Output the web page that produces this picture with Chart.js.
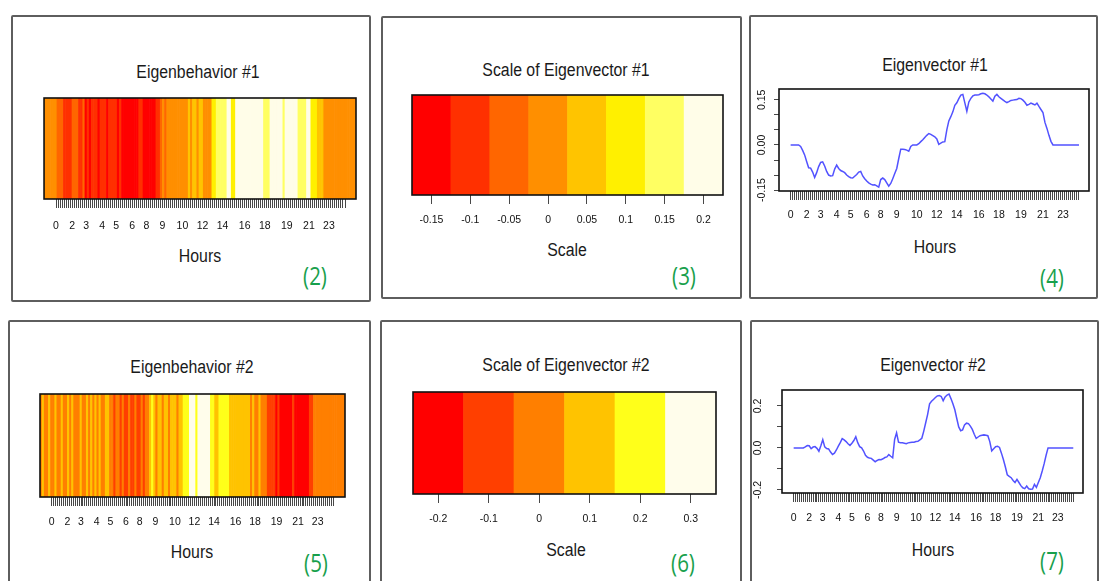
<!DOCTYPE html>
<html>
<head>
<meta charset="utf-8">
<script src="https://cdn.jsdelivr.net/npm/chart.js@4.4.1/dist/chart.umd.min.js"></script>
<style>
html, body { margin: 0; padding: 0; background: #fff; }
#page { position: relative; width: 1100px; height: 581px; overflow: hidden; font-family: 'Liberation Sans', Arial, sans-serif; }
.panel { position: absolute; border: 2px solid #5e5e5e; border-radius: 2px; box-sizing: border-box; }
.txt { position: absolute; white-space: nowrap; color: #1a1a1a; font-size: 18px; line-height: 1; transform: translate(-50%, -50%) scaleX(0.88); }
.num { position: absolute; white-space: nowrap; color: #18a04c; font-family: 'Open Sans', 'Noto Sans', sans-serif; font-size: 25px; line-height: 1; transform: translate(-50%, -50%) scaleX(0.82); }
canvas { position: absolute; }
</style>
</head>
<body>
<div id="page"></div>
<script>
// hour labels that R kept on the 145-tick time axis
const hourTickIndex = [0, 8, 15, 23, 30, 38, 45, 53, 63, 73, 83, 94, 104, 115, 126, 136];
const hourTickText = ['0', '2', '3', '4', '5', '6', '8', '9', '10', '12', '14', '16', '18', '19', '21', '23'];

// colour scales
const scale1Values = [-0.15, -0.1, -0.05, 0, 0.05, 0.1, 0.15, 0.2];
const scale1Labels = ['-0.15', '-0.1', '-0.05', '0', '0.05', '0.1', '0.15', '0.2'];
const scale1Colors = ['#FF0000', '#FF3000', '#FF6600', '#FF8F00', '#FFC400', '#FFF000', '#FFFF62', '#FFFDE8'];
const scale2Values = [-0.2, -0.1, 0, 0.1, 0.2, 0.3];
const scale2Labels = ['-0.2', '-0.1', '0', '0.1', '0.2', '0.3'];
const scale2Colors = ['#FF0000', '#FF3F00', '#FF7F00', '#FFC300', '#FFFF1A', '#FFFDEB'];

// eigenbehavior heatmaps (scale level of each column)
const behavior1 = [
  0, 0, 0, 0, 0, 0, -0.05, -0.05, -0.05, -0.1,
  -0.1, -0.1, -0.1, -0.05, -0.05, -0.05, -0.1, -0.1, -0.05, -0.15,
  -0.1, -0.15, -0.1, -0.1, -0.1, -0.15, -0.1, -0.1, -0.1, -0.15,
  -0.1, -0.1, -0.1, -0.1, -0.15, -0.1, -0.15, -0.15, -0.15, -0.15,
  -0.15, -0.15, -0.15, -0.15, -0.1, -0.1, -0.15, -0.15, -0.15, -0.15,
  -0.15, -0.15, -0.1, -0.1, -0.05, 0, -0.05, 0, 0, 0,
  0, 0, 0, 0, 0, 0, 0, 0.05, 0, 0.05,
  0.05, 0, 0.05, 0.05, 0, 0, 0, 0, 0.1, 0.1,
  0.15, 0.15, 0.15, 0.15, 0.15, 0.2, 0.2, 0.1, 0.1, 0.2,
  0.2, 0.2, 0.2, 0.2, 0.2, 0.2, 0.2, 0.2, 0.2, 0.2,
  0.2, 0.2, 0.15, 0.15, 0.15, 0.2, 0.2, 0.2, 0.2, 0.2,
  0.2, 0.15, 0.2, 0.2, 0.2, 0.2, 0.2, 0.2, 0.15, 0.15,
  0.15, 0.15, 0.2, 0.2, 0.1, 0.1, 0.1, 0.05, 0.05, 0.05,
  0, 0, 0, 0, 0, 0, 0, 0, 0, 0,
  0, 0, 0, 0, 0
];
const behavior2 = [
  0, 0.1, 0, 0, 0.1, 0, 0, 0.1, 0, 0,
  0.1, 0, 0, 0.1, 0, 0.1, 0, 0, 0, 0.1,
  0, 0, 0.1, 0, 0.1, 0, 0.1, 0, 0.1, 0,
  0, 0.1, 0.1, 0, 0, -0.1, 0, 0, -0.1, 0,
  -0.1, -0.1, 0, -0.1, -0.1, 0, -0.1, -0.1, 0, -0.1,
  0, 0, 0.1, 0.2, 0.1, 0, 0.1, 0.1, 0, 0.1,
  0.1, 0, 0.1, 0.1, 0.1, 0, 0.1, 0.1, 0.2, 0.2,
  0.2, 0.3, 0.3, 0.3, 0.2, 0.3, 0.3, 0.3, 0.3, 0.3,
  0.3, 0.2, 0.2, 0.1, 0.1, 0.2, 0.2, 0.2, 0.2, 0.2,
  0.1, 0.1, 0.1, 0.1, 0.1, 0.1, 0.1, 0.1, 0.1, 0.1,
  0, 0.1, 0, 0, 0.1, 0, 0, 0, -0.1, -0.1,
  -0.1, -0.1, -0.2, -0.1, -0.2, -0.2, -0.2, -0.2, -0.2, -0.2,
  -0.1, -0.2, -0.2, -0.2, -0.2, -0.2, -0.2, -0.2, -0.1, -0.1,
  0, 0, 0, 0, 0, 0, 0, 0, 0, 0,
  0, 0, 0, 0, 0
];

// eigenvectors (line panels)
const eigenvector1 = [
  0, 0, 0, 0, 0, -0.005, -0.018, -0.033, -0.055, -0.076,
  -0.077, -0.09, -0.108, -0.092, -0.072, -0.058, -0.056, -0.07, -0.088, -0.1,
  -0.103, -0.102, -0.08, -0.067, -0.078, -0.085, -0.088, -0.092, -0.1, -0.105,
  -0.109, -0.11, -0.104, -0.098, -0.09, -0.088, -0.103, -0.112, -0.12, -0.126,
  -0.13, -0.133, -0.132, -0.136, -0.14, -0.115, -0.11, -0.115, -0.126, -0.137,
  -0.128, -0.112, -0.095, -0.078, -0.045, -0.014, -0.014, -0.015, -0.017, -0.021,
  -0.005, 0, 0, 0, 0.004, 0.011, 0.017, 0.025, 0.032, 0.038,
  0.035, 0.031, 0.027, 0.02, 0.002, 0.006, 0.01, 0.011, 0.05, 0.08,
  0.094, 0.11, 0.132, 0.14, 0.154, 0.166, 0.168, 0.14, 0.112, 0.143,
  0.155, 0.163, 0.166, 0.166, 0.167, 0.17, 0.172, 0.17, 0.166, 0.16,
  0.153, 0.146, 0.162, 0.168, 0.16, 0.155, 0.15, 0.145, 0.141, 0.144,
  0.148, 0.149, 0.15, 0.151, 0.155, 0.154, 0.149, 0.142, 0.132, 0.135,
  0.139, 0.136, 0.133, 0.139, 0.128, 0.118, 0.108, 0.075, 0.055, 0.032,
  0.012, 0, 0, 0, 0, 0, 0, 0, 0, 0,
  0, 0, 0, 0, 0
];
const eigenvector2 = [
  0, 0, 0, 0, 0, 0, 0.005, 0.011, 0.01, -0.004,
  0.004, 0.006, -0.002, -0.016, 0.01, 0.039, 0.005, -0.003, -0.005, -0.02,
  -0.031, -0.025, -0.01, 0.008, 0.025, 0.044, 0.038, 0.03, 0.02, 0.012,
  0.022, 0.035, 0.053, 0.025, 0.006, 0, -0.015, -0.035, -0.045, -0.048,
  -0.05, -0.058, -0.066, -0.06, -0.055, -0.056, -0.052, -0.046, -0.043, -0.032,
  -0.04, -0.047, 0.04, 0.072, 0.027, 0.025, 0.024, 0.022, 0.02, 0.024,
  0.026, 0.027, 0.027, 0.03, 0.031, 0.038, 0.046, 0.08, 0.12, 0.16,
  0.21, 0.222, 0.231, 0.24, 0.248, 0.25, 0.245, 0.225, 0.243, 0.252,
  0.257, 0.235, 0.21, 0.182, 0.14, 0.1, 0.082, 0.086, 0.11, 0.118,
  0.116, 0.104, 0.088, 0.065, 0.045, 0.052, 0.058, 0.06, 0.062, 0.06,
  0.058, 0.03, -0.014, -0.004, 0.006, 0.008, 0.002, -0.025, -0.055, -0.09,
  -0.128, -0.136, -0.142, -0.155, -0.165, -0.15, -0.165, -0.18, -0.19, -0.194,
  -0.182, -0.195, -0.197, -0.196, -0.174, -0.188, -0.165, -0.142, -0.11, -0.075,
  -0.035, 0, 0, 0, 0, 0, 0, 0, 0, 0,
  0, 0, 0, 0, 0
];
const vec1Ticks = [-0.15, -0.1, -0.05, 0, 0.05, 0.1, 0.15];
const vec1LabelValues = [-0.15, 0, 0.15];
const vec1LabelText = ['-0.15', '0.00', '0.15'];
const vec2Ticks = [-0.2, -0.1, 0, 0.1, 0.2];
const vec2LabelValues = [-0.2, 0, 0.2];
const vec2LabelText = ['-0.2', '0.0', '0.2'];

const page = document.getElementById('page');
const FONT = "'Liberation Sans', Arial, sans-serif";

// --- panel frames and texts ---
const panels = [
    [11, 15, 360, 287], [381, 16, 361, 283], [749, 15, 349, 284],
    [8, 320, 363, 290], [380, 320, 362, 290], [750, 320, 349, 290]
];
panels.forEach(([l, t, w, h]) => {
    const d = document.createElement('div');
    d.className = 'panel';
    Object.assign(d.style, { left: l + 'px', top: t + 'px', width: w + 'px', height: h + 'px' });
    page.appendChild(d);
});

const texts = [
    ['Eigenbehavior #1', 198, 72, 'txt'], ['Scale of Eigenvector #1', 566, 70, 'txt'], ['Eigenvector #1', 935, 65, 'txt'],
    ['Hours', 200, 256, 'txt'], ['Scale', 567, 250, 'txt'], ['Hours', 935, 247, 'txt'],
    ['Eigenbehavior #2', 192, 367, 'txt'], ['Scale of Eigenvector #2', 566, 365, 'txt'], ['Eigenvector #2', 933, 365, 'txt'],
    ['Hours', 192, 552, 'txt'], ['Scale', 566, 550, 'txt'], ['Hours', 933, 550, 'txt'],
    ['(2)', 315, 275, 'num'], ['(3)', 684, 275, 'num'], ['(4)', 1052, 277, 'num'],
    ['(5)', 316, 562, 'num'], ['(6)', 683, 562, 'num'], ['(7)', 1052, 560, 'num']
];
texts.forEach(([s, x, y, cls]) => {
    const d = document.createElement('div');
    d.className = cls;
    d.textContent = s;
    d.style.left = x + 'px';
    d.style.top = y + 'px';
    page.appendChild(d);
});

function makeCanvas(left, top, w, h) {
    const c = document.createElement('canvas');
    c.width = w; c.height = h;
    c.style.left = left + 'px'; c.style.top = top + 'px';
    c.style.width = w + 'px'; c.style.height = h + 'px';
    page.appendChild(c);
    return c;
}

// black box round the plot region
const frame = {
    id: 'frame',
    afterDraw(chart) {
        const a = chart.chartArea, c = chart.ctx;
        c.save();
        c.strokeStyle = '#111';
        c.lineWidth = 1.6;
        c.strokeRect(a.left, a.top, a.right - a.left, a.bottom - a.top);
        c.restore();
    }
};

// R style rotated y tick labels
const sideLabels = {
    id: 'sideLabels',
    afterDraw(chart, args, opts) {
        if (!opts || !opts.values) return;
        const y = chart.scales.y, c = chart.ctx;
        c.save();
        c.fillStyle = '#111';
        c.font = '10.5px ' + FONT;
        c.textAlign = 'center';
        c.textBaseline = 'middle';
        opts.values.forEach((v, k) => {
            c.save();
            c.translate(chart.chartArea.left - opts.offset, y.getPixelForValue(v));
            c.rotate(-Math.PI / 2);
            c.fillText(opts.texts[k], 0, 0);
            c.restore();
        });
        c.restore();
    }
};

function colorFor(v, vals, cols) {
    let best = 0;
    vals.forEach((s, k) => { if (Math.abs(s - v) < Math.abs(vals[best] - v)) best = k; });
    return cols[best];
}

function hourLabel(value) {
    const k = hourTickIndex.indexOf(Math.round(value));
    return k >= 0 ? hourTickText[k] : '';
}

function tickAxis(min, max, values, labelFn, padding, height) {
    return {
        type: 'linear', position: 'bottom', min: min, max: max, offset: false,
        grid: { drawOnChartArea: false, drawTicks: true, tickLength: 9, color: '#333', lineWidth: 0.9, offset: false },
        border: { display: false },
        ticks: { autoSkip: false, minRotation: 0, maxRotation: 0, padding: padding, color: '#111',
                 font: { size: 10.5, family: FONT }, callback: labelFn },
        afterBuildTicks: (axis) => { axis.ticks = values.map(v => ({ value: v })); },
        afterFit: (axis) => { axis.height = height; }
    };
}

const common = {
    responsive: false, animation: false, events: [],
    plugins: { legend: { display: false }, tooltip: { enabled: false } }
};

function heatmap(canvas, levels, vals, cols, tMin, tMax, pad) {
    return new Chart(canvas, {
        type: 'bar',
        data: { datasets: [{
            data: levels.map((v, i) => ({ x: i, y: 1 })),
            backgroundColor: levels.map(v => colorFor(v, vals, cols)),
            borderWidth: 0, barPercentage: 1, categoryPercentage: 1
        }] },
        options: Object.assign({}, common, {
            layout: { padding: { top: 3, left: 3, right: 3, bottom: 0 } },
            scales: {
                x: { type: 'linear', display: false, offset: false, min: -0.5, max: levels.length - 0.5 },
                y: { display: false, min: 0, max: 1 },
                xt: tickAxis(tMin, tMax, levels.map((v, i) => i), hourLabel, pad, 39)
            }
        }),
        plugins: [frame]
    });
}

function scaleBar(canvas, vals, labels, cols, step, pad) {
    return new Chart(canvas, {
        type: 'bar',
        data: { datasets: [{
            data: vals.map(v => ({ x: v, y: 1 })),
            backgroundColor: cols,
            borderWidth: 0, barPercentage: 1, categoryPercentage: 1
        }] },
        options: Object.assign({}, common, {
            layout: { padding: { top: 3, left: 3, right: 3, bottom: 0 } },
            scales: {
                x: tickAxis(vals[0] - step / 2, vals[vals.length - 1] + step / 2, vals,
                            (v) => { const k = vals.findIndex(s => Math.abs(s - v) < 1e-9); return k >= 0 ? labels[k] : ''; },
                            pad, 36),
                y: { display: false, min: 0, max: 1 }
            }
        }),
        plugins: [frame]
    });
}

function vectorLine(canvas, series, yMin, yMax, yTicks, labVals, labText, xMin, xMax, yWidth, labOffset, pad) {
    return new Chart(canvas, {
        type: 'line',
        data: { datasets: [{
            data: series.map((v, i) => ({ x: i, y: v })),
            borderColor: '#5252ff', borderWidth: 1.5, pointRadius: 0, tension: 0, fill: false
        }] },
        options: Object.assign({}, common, {
            layout: { padding: { top: 3, left: 0, right: 3, bottom: 0 } },
            plugins: Object.assign({}, common.plugins, {
                sideLabels: { values: labVals, texts: labText, offset: labOffset }
            }),
            scales: {
                x: tickAxis(xMin, xMax, series.map((v, i) => i), hourLabel, pad, 36),
                y: {
                    type: 'linear', position: 'left', min: yMin, max: yMax,
                    grid: { drawOnChartArea: false, drawTicks: true, tickLength: 5, color: '#333', lineWidth: 0.9 },
                    border: { display: false },
                    ticks: { display: false },
                    afterBuildTicks: (axis) => { axis.ticks = yTicks.map(v => ({ value: v })); },
                    afterFit: (axis) => { axis.width = yWidth; }
                }
            }
        }),
        plugins: [frame, sideLabels]
    });
}

document.addEventListener('DOMContentLoaded', () => {
    // top row
    heatmap(makeCanvas(41, 95, 318, 143), behavior1, scale1Values, scale1Colors, -5.98, 149.48, 12);
    scaleBar(makeCanvas(409, 92, 317, 139), scale1Values, scale1Labels, scale1Colors, 0.05, 10);
    vectorLine(makeCanvas(752, 86, 340, 141), eigenvector1, -0.153, 0.186, vec1Ticks,
               vec1LabelValues, vec1LabelText, -5.8, 149, 27, 17, 9);
    // bottom row
    heatmap(makeCanvas(37, 391, 311, 145), behavior2, scale2Values, scale2Colors, -5.98, 149.98, 10);
    scaleBar(makeCanvas(410, 389, 309, 141), scale2Values, scale2Labels, scale2Colors, 0.1, 10);
    vectorLine(makeCanvas(752, 387, 334, 142), eigenvector2, -0.215, 0.276, vec2Ticks,
               vec2LabelValues, vec2LabelText, -6, 149, 30, 24, 10);
});
</script>
</body>
</html>
